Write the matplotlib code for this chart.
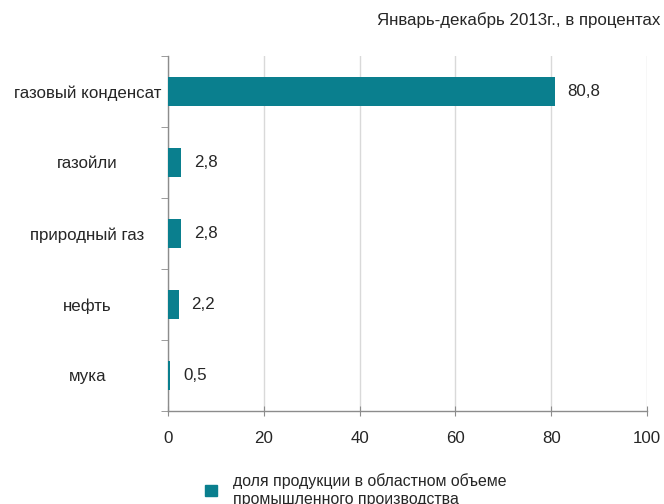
import numpy as np
import matplotlib.pyplot as plt
from matplotlib.patches import Patch

plt.rcParams['font.family'] = ['Liberation Sans', 'DejaVu Sans']

categories = ["газовый конденсат", "газойли", "природный газ", "нефть", "мука"]
values = [80.8, 2.8, 2.8, 2.2, 0.5]
value_labels = ["80,8", "2,8", "2,8", "2,2", "0,5"]
xticks = [0, 20, 40, 60, 80, 100]
title = "Январь-декабрь 2013г., в процентах"
legend_label = "доля продукции в областном объеме\nпромышленного производства"

bar_color = "#0a7f8e"
axis_color = "#8c8c8c"
text_color = "#262626"
fs = 12.2

fig = plt.figure(figsize=(6.64, 5.04), dpi=100)
ax = fig.add_axes([168 / 664, 1 - 411 / 504, (647 - 168) / 664, (411 - 56) / 504])

y = np.arange(len(categories))
bars = ax.barh(y, values, height=0.4, color=bar_color, zorder=3)
ax.bar_label(bars, labels=value_labels, padding=9, fontsize=fs, color=text_color)

ax.set_ylim(len(categories) - 0.5, -0.5)
ax.set_xlim(0, 100)
ax.set_xticks(xticks)
ax.set_xticklabels([str(t) for t in xticks], fontsize=fs, color=text_color)

# category labels centred to the left of the axis, ticks between categories
ax.set_yticks(y)
ax.set_yticklabels(categories, fontsize=fs, color=text_color, ha='center')
ax.tick_params(axis='y', length=0, pad=58)
ax.set_yticks(np.arange(len(categories) + 1) - 0.5, minor=True)
ax.tick_params(axis='y', which='minor', length=5, color=axis_color, direction='out')
ax.tick_params(axis='x', length=7, direction='inout', color=axis_color, pad=11)

ax.grid(axis='x', color="#d9d9d9", linewidth=1, zorder=0)
for s in ['top', 'right']:
    ax.spines[s].set_visible(False)
for s in ['left', 'bottom']:
    ax.spines[s].set_color(axis_color)
    ax.spines[s].set_linewidth(1)

fig.text(660 / 664, 1 - 20 / 504, title, ha='right', va='center',
         fontsize=fs, color=text_color)

fig.legend(handles=[Patch(color=bar_color, label=legend_label)],
           loc='upper left', bbox_to_anchor=(199 / 664, 1 - 467 / 504),
           frameon=False, fontsize=fs - 0.8, handlelength=0.75, handleheight=0.75,
           handletextpad=1.0, borderaxespad=0, labelcolor=text_color,
           labelspacing=0)

fig.savefig("out.png", dpi=100)
